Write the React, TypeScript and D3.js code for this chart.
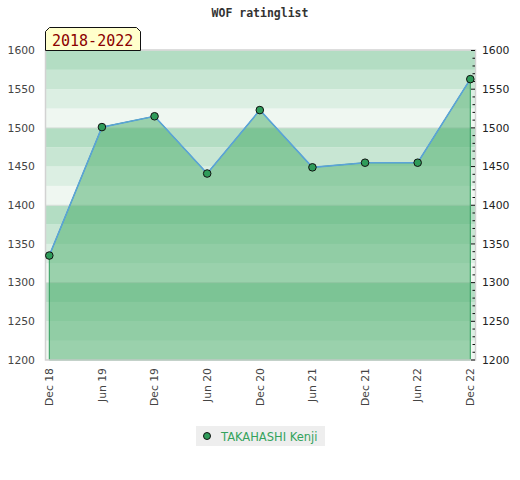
import * as d3 from 'd3';

// WOF rating, one value every six months
const periods = ['Dec 18', 'Jun 19', 'Dec 19', 'Jun 20', 'Dec 20', 'Jun 21', 'Dec 21', 'Jun 22', 'Dec 22'];
const ratings = [1335, 1501, 1515, 1441, 1523, 1449, 1455, 1455, 1563];
const yTicks = [1200, 1250, 1300, 1350, 1400, 1450, 1500, 1550, 1600];
const player = 'TAKAHASHI Kenji';
const rangeLabel = '2018-2022';
const title = 'WOF ratinglist';

const W = 520;
const H = 480;
const PLOT = { left: 45.5, right: 475.5, top: 50.5, bottom: 360 };
const BAND_COLOURS = ['#b3ddc3', '#c8e6d3', '#dcefe3', '#eff7f1'];
const GREEN = '#2f9c5a';
const FONT = 'DejaVu Sans, sans-serif';
const MONO = 'DejaVu Sans Mono, monospace';

export default function App() {
  const x = d3.scalePoint<string>().domain(periods).range([49.3, 470.3]);
  const y = d3.scaleLinear().domain([1200, 1600]).range([PLOT.bottom, PLOT.top]);

  const bands = d3.range(1200, 1600, 25);
  const minor = d3.range(1200, 1601, 10);

  const pts = periods.map((p, i) => ({ p, v: ratings[i] }));
  const area = d3.area<{ p: string; v: number }>()
    .x((d) => x(d.p)!)
    .y0(y(1200))
    .y1((d) => y(d.v));
  const line = d3.line<{ p: string; v: number }>()
    .x((d) => x(d.p)!)
    .y((d) => y(d.v));

  return (
    <svg width={W} height={H} style={{ position: 'absolute', left: 0, top: 0, background: '#fff' }}>
      <text x={260} y={17} textAnchor="middle" fontFamily={MONO} fontWeight="bold" fontSize={11.5} fill="#333">
        {title}
      </text>

      {/* background bands, four shades per hundred points */}
      {bands.map((b) => {
        const idx = Math.floor((1600 - (b + 25)) / 25) % 4;
        return (
          <rect key={b} x={PLOT.left} width={PLOT.right - PLOT.left}
            y={y(b + 25)} height={y(b) - y(b + 25)} fill={BAND_COLOURS[idx]} />
        );
      })}
      {[1500, 1400, 1300].map((v) => (
        <line key={v} x1={PLOT.left} x2={PLOT.right} y1={y(v)} y2={y(v)} stroke="#d6ddd8" strokeWidth={1} />
      ))}

      <path d={area(pts)!} fill="rgba(69,171,103,0.5)" stroke={GREEN} strokeWidth={1} />
      <path d={line(pts)!} fill="none" stroke="#5ba3d9" strokeWidth={1.6} />

      {/* plot frame */}
      <rect x={PLOT.left} y={PLOT.top - 0.5} width={PLOT.right - PLOT.left} height={PLOT.bottom - PLOT.top + 0.5}
        fill="none" stroke="#d2d2d2" strokeWidth={1.5} />

      {/* right axis ticks */}
      {minor.map((v) => (
        <line key={v} x1={v % 50 === 0 ? 471 : 472.5} x2={475} y1={y(v)} y2={y(v)} stroke="#111" strokeWidth={1} />
      ))}

      {pts.map((d) => (
        <circle key={d.p} cx={x(d.p)} cy={y(d.v)} r={3.8} fill={GREEN} stroke="#111" strokeWidth={1} />
      ))}

      {yTicks.map((v) => (
        <g key={v}>
          <text x={35} y={y(v)} dy="0.35em" textAnchor="end" fontFamily={FONT} fontSize={10.8} fill="#444">{v}</text>
          <text x={482} y={y(v)} dy="0.35em" textAnchor="start" fontFamily={FONT} fontSize={10.8} fill="#222">{v}</text>
        </g>
      ))}

      {periods.map((p) => (
        <text key={p} transform={`translate(${x(p)},368) rotate(-90)`} dy="0.35em" textAnchor="end"
          fontFamily={FONT} fontSize={10.8} fill="#444">{p}</text>
      ))}

      {/* period badge */}
      <polygon points="45.5,50.5 45.5,31.5 49.5,27.5 136.5,27.5 140.5,31.5 140.5,50.5"
        fill="#ffffcc" stroke="#111" strokeWidth={1} />
      <text x={52} y={46} fontFamily={MONO} fontSize={15} fill="#8b0000">{rangeLabel}</text>

      {/* legend */}
      <rect x={196} y={426} width={129} height={20} fill="#eeeeee" />
      <circle cx={207} cy={436} r={3.5} fill={GREEN} stroke="#111" strokeWidth={1} />
      <text x={221} y={440.5} fontFamily={FONT} fontSize={11.5} fill="#34a35c">{player}</text>
    </svg>
  );
}
